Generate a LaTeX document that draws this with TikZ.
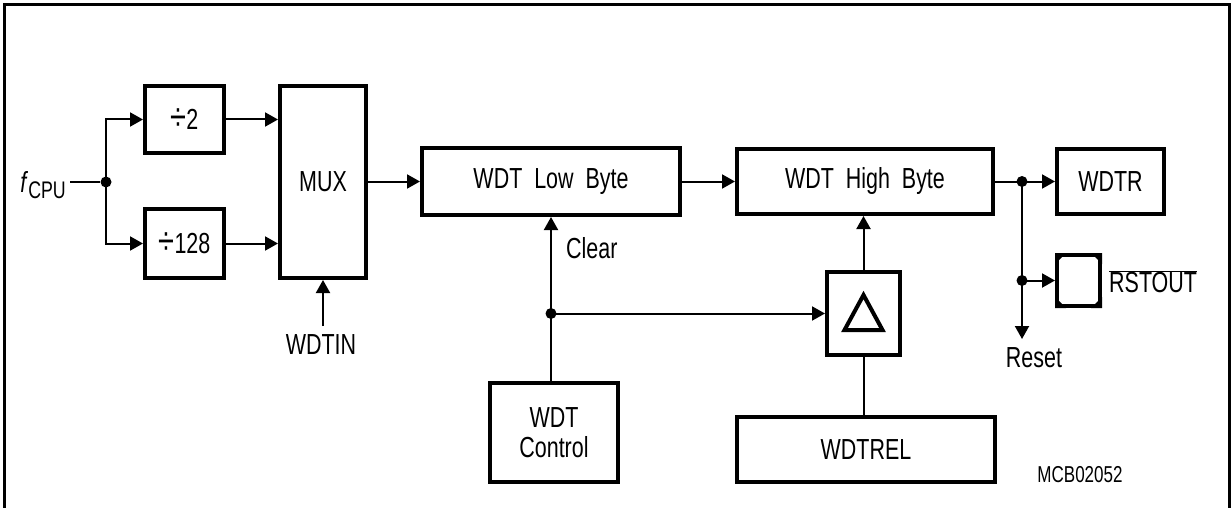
\documentclass[tikz,border=0pt]{standalone}
\usepackage{fontspec}
\setmainfont{Liberation Sans}[FakeStretch=0.74]
\usetikzlibrary{arrows.meta}
\newcommand{\bigdiv}{\raisebox{-1pt}{\scalebox{1.35}{÷}}}
\tikzset{
  blk/.style={draw, line width=4pt, inner sep=0pt, font=\fontsize{29}{33}\selectfont},
  conn/.style={line width=2pt},
  arr/.style={conn, -{Triangle[length=13pt,width=14pt]}},
  lbl/.style={inner sep=0pt, font=\fontsize{29}{33}\selectfont},
  dot/.style={circle, fill, inner sep=0pt, minimum size=11pt},
}
\begin{document}
\begin{tikzpicture}[x=1pt,y=-1pt]
\useasboundingbox (0,0) rectangle (1231,508);
% frame
\draw[line width=3pt] (4.5,530) -- (4.5,4.5) -- (1229,4.5) -- (1229,530);

% blocks
\node[blk, minimum width=79pt, minimum height=67pt] (div2) at (184.5,119.5) {\bigdiv 2};
\node[blk, minimum width=79pt, minimum height=69pt] (div128) at (184.5,243.5) {\bigdiv 128};
\node[blk, minimum width=86pt, minimum height=192pt] (mux) at (323,182) {MUX};
\node[blk, minimum width=258pt, minimum height=67pt] (lowb) at (551,181.5) {WDT\ \ Low\ \ Byte};
\node[blk, minimum width=256pt, minimum height=65pt] (highb) at (865,181.5) {WDT\ \ High\ \ Byte};
\node[blk, minimum width=107pt, minimum height=65pt] (wdtr) at (1110.5,181.5) {WDTR};
\node[blk, minimum width=43pt, minimum height=51pt] (pad) at (1078.5,280.5) {};
\node[blk, minimum width=73pt, minimum height=83pt] (delta) at (863.5,313.5) {};
\node[blk, minimum width=128pt, minimum height=99pt, align=center] (ctrl) at (554,432.5) {WDT\\[-3pt]Control};
\node[blk, minimum width=258pt, minimum height=65pt] (wdtrel) at (866,449.5) {WDTREL};

% delta symbol
\draw[line width=4pt, line join=miter] ([shift={(-19,16.5)}]delta.center) -- ([shift={(19,16.5)}]delta.center) -- ([shift={(0,-18.5)}]delta.center) -- cycle;
% pad corners
\fill (pad.north west) -- ++(11,0) -- ++(-11,11) -- cycle;
\fill (pad.north east) -- ++(-11,0) -- ++(11,11) -- cycle;
\fill (pad.south west) -- ++(11,0) -- ++(-11,-11) -- cycle;
\fill (pad.south east) -- ++(-11,0) -- ++(11,-11) -- cycle;

% labels
\node[lbl, anchor=east] (fcpu) at (66,185) {\textit{f}\raisebox{-6pt}{\fontsize{24}{28}\selectfont CPU}};
\node[lbl] (wdtin) at (321,345) {WDTIN};
\node[lbl, anchor=west] (clear) at (566,248) {Clear};
\node[lbl] (reset) at (1034,358) {Reset};
\node[lbl, anchor=west] (rstout) at (1109,282) {$\overline{\mbox{RSTOUT}}$};
\node[lbl, font=\fontsize{23}{27}\selectfont] (mcb) at (1080,475) {MCB02052};

% junctions
\node[dot] (j1) at (106,182) {};
\node[dot] (j2) at (1022,181.5) {};
\node[dot] (j3) at (1022,280.5) {};
\node[dot] (j4) at (551,313.5) {};
\coordinate (rs) at (1022,339);
\coordinate (wi) at (323,326);

% connectors
\draw[conn] (fcpu.east |- j1) ++(4,0) -- (j1);
\draw[arr] (j1.center) |- (div2.west);
\draw[arr] (j1.center) |- (div128.west);
\draw[arr] (div2.east) -- (div2.east -| mux.west);
\draw[arr] (div128.east) -- (div128.east -| mux.west);
\draw[arr] (wi) -- (mux.south);
\draw[arr] (mux.east |- lowb.west) -- (lowb.west);
\draw[arr] (lowb.east) -- (highb.west);
\draw[conn] (highb.east) -- (j2.center);
\draw[arr] (j2.center) -- (wdtr.west);
\draw[arr] (j2.center) -- (rs);
\draw[arr] (j3.center) -- (pad.west);
\draw[conn] (ctrl.north -| j4) -- (j4.center);
\draw[arr] (j4.center) -- (lowb.south);
\draw[arr] (j4.center) -- (delta.west);
\draw[arr] (delta.north) -- (delta.north |- highb.south);
\draw[conn] (wdtrel.north -| delta.south) -- (delta.south);
\end{tikzpicture}
\end{document}
